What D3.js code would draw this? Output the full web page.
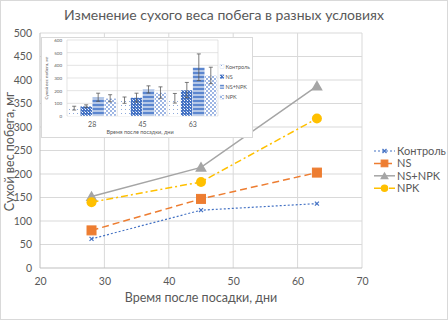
<!DOCTYPE html>
<html>
<head>
<meta charset="utf-8">
<script src="https://cdn.jsdelivr.net/npm/d3@7"></script>
<style>
  body { margin: 0; background: #fff; }
  svg { font-family: Lato, "Open Sans", "Liberation Sans", sans-serif; }
</style>
</head>
<body>
<div id="chart"></div>
<script>
// main line chart data
const days = [28, 45, 63];
const seriesNames = ['Контроль', 'NS', 'NS+NPK', 'NPK'];
const control = [62, 123, 137];
const ns = [80, 147, 203];
const nsNpk = [152, 214, 387];
const npk = [140, 183, 318];

// inset bar chart data (means and error half-widths)
const barControl = [62, 125, 140];
const barNs = [78, 145, 205];
const barNsNpk = [148, 210, 385];
const barNpk = [140, 185, 320];
const errControl = [15, 25, 38];
const errNs = [10, 35, 60];
const errNsNpk = [32, 28, 105];
const errNpk = [28, 45, 65];

const xTicks = [20, 30, 40, 50, 60, 70];
const yTicks = [0, 50, 100, 150, 200, 250, 300, 350, 400, 450, 500];
const insetTicks = [0, 100, 200, 300, 400, 500, 600];

const W = 448, H = 320;
const textColor = '#595959';
const gridColor = '#d9d9d9';

const svg = d3.select('#chart').append('svg')
    .attr('width', W).attr('height', H);

svg.append('rect')
    .attr('x', 0.5).attr('y', 0.5)
    .attr('width', W - 1).attr('height', H - 1)
    .attr('fill', '#fff').attr('stroke', '#d9d9d9');

// patterns for inset bars
const defs = svg.append('defs');
const pDots = defs.append('pattern').attr('id', 'p0')
    .attr('width', 4).attr('height', 4).attr('patternUnits', 'userSpaceOnUse');
pDots.append('rect').attr('width', 4).attr('height', 4).attr('fill', '#fff');
pDots.append('rect').attr('x', 1).attr('y', 1).attr('width', 1).attr('height', 1).attr('fill', '#8faadc');

const pCheck = defs.append('pattern').attr('id', 'p1')
    .attr('width', 3).attr('height', 3).attr('patternUnits', 'userSpaceOnUse');
pCheck.append('rect').attr('width', 3).attr('height', 3).attr('fill', '#4472c4');
pCheck.append('rect').attr('x', 1).attr('y', 1).attr('width', 1).attr('height', 1).attr('fill', '#fff');
pCheck.append('rect').attr('x', 0).attr('y', 0).attr('width', 1).attr('height', 1).attr('fill', '#b4c7e7');

const pStripe = defs.append('pattern').attr('id', 'p2')
    .attr('width', 4).attr('height', 4).attr('patternUnits', 'userSpaceOnUse');
pStripe.append('rect').attr('width', 4).attr('height', 4).attr('fill', '#b4c7e7');
pStripe.append('rect').attr('width', 4).attr('height', 2).attr('fill', '#5b86cf');

const pChecker = defs.append('pattern').attr('id', 'p3')
    .attr('width', 4).attr('height', 4).attr('patternUnits', 'userSpaceOnUse');
pChecker.append('rect').attr('width', 4).attr('height', 4).attr('fill', '#fff');
pChecker.append('rect').attr('width', 2).attr('height', 2).attr('fill', '#9db5e3');
pChecker.append('rect').attr('x', 2).attr('y', 2).attr('width', 2).attr('height', 2).attr('fill', '#9db5e3');

// ---------------- main chart ----------------
const x = d3.scaleLinear().domain([20, 70]).range([40, 362]);
const y = d3.scaleLinear().domain([0, 500]).range([268, 33]);

const grid = svg.append('g');
grid.selectAll('line.h').data(yTicks.slice(1)).join('line')
    .attr('x1', x(20)).attr('x2', x(70))
    .attr('y1', d => y(d)).attr('y2', d => y(d))
    .attr('stroke', gridColor);
grid.selectAll('line.v').data(xTicks.slice(1)).join('line')
    .attr('x1', d => x(d)).attr('x2', d => x(d))
    .attr('y1', y(0)).attr('y2', y(500))
    .attr('stroke', gridColor);

// axis baselines
svg.append('line').attr('x1', x(20)).attr('x2', x(70)).attr('y1', y(0)).attr('y2', y(0)).attr('stroke', '#bfbfbf');
svg.append('line').attr('x1', x(20)).attr('x2', x(20)).attr('y1', y(0)).attr('y2', y(500)).attr('stroke', '#bfbfbf');

const xAxis = svg.append('g').attr('transform', `translate(0,${y(0)})`)
    .call(d3.axisBottom(x).tickValues(xTicks).tickSize(0).tickPadding(10));
const yAxis = svg.append('g').attr('transform', `translate(${x(20)},0)`)
    .call(d3.axisLeft(y).tickValues(yTicks).tickSize(0).tickPadding(8));
[xAxis, yAxis].forEach(a => {
    a.select('.domain').remove();
    a.selectAll('text').attr('fill', textColor)
        .style('font-family', 'Lato, sans-serif').style('font-size', '10.5px');
});

svg.append('text')
    .attr('x', 224).attr('y', 20)
    .attr('text-anchor', 'middle')
    .attr('fill', textColor).style('font-size', '14px')
    .text('Изменение сухого веса побега в разных условиях');

svg.append('text')
    .attr('x', 201).attr('y', 302)
    .attr('text-anchor', 'middle')
    .attr('fill', textColor).style('font-size', '12.5px')
    .text('Время после посадки, дни');

svg.append('text')
    .attr('transform', `translate(14,${y(250) + 1}) rotate(-90)`)
    .attr('text-anchor', 'middle')
    .attr('fill', textColor).style('font-size', '12.5px')
    .text('Сухой вес побега, мг');

const lineSeries = [
    {name: seriesNames[0], values: control, color: '#4472c4', dash: '2,2', marker: 'x', width: 1.2},
    {name: seriesNames[1], values: ns, color: '#ed7d31', dash: '7,4', marker: 'square', width: 1.5},
    {name: seriesNames[2], values: nsNpk, color: '#a5a5a5', dash: null, marker: 'triangle', width: 1.5},
    {name: seriesNames[3], values: npk, color: '#ffc000', dash: '7,3,2,3', marker: 'circle', width: 1.5}
];

const line = d3.line().x(d => x(d[0])).y(d => y(d[1]));

function drawMarker(g, type, color, cx, cy, scale = 1) {
    if (type === 'square') {
        const s = 9 * scale;
        g.append('rect').attr('x', cx - s / 2).attr('y', cy - s / 2).attr('width', s).attr('height', s)
            .attr('fill', color).attr('stroke', color);
    } else if (type === 'triangle') {
        g.append('path')
            .attr('d', d3.symbol().type(d3.symbolTriangle).size(60 * scale * scale)())
            .attr('transform', `translate(${cx},${cy + 1})`)
            .attr('fill', color);
    } else if (type === 'circle') {
        g.append('circle').attr('cx', cx).attr('cy', cy).attr('r', 5 * scale).attr('fill', color);
    } else {
        const s = 2;
        g.append('path')
            .attr('d', `M${cx - s},${cy - s}L${cx + s},${cy + s}M${cx - s},${cy + s}L${cx + s},${cy - s}`)
            .attr('stroke', color).attr('stroke-width', 1.2);
    }
}

lineSeries.forEach(s => {
    const pts = days.map((d, i) => [d, s.values[i]]);
    svg.append('path')
        .attr('d', line(pts))
        .attr('fill', 'none')
        .attr('stroke', s.color)
        .attr('stroke-width', s.width)
        .attr('stroke-dasharray', s.dash);
    const mg = svg.append('g');
    pts.forEach(p => drawMarker(mg, s.marker, s.color, x(p[0]), y(p[1])));
});

// main legend
const legend = svg.append('g');
lineSeries.forEach((s, i) => {
    const ly = 151 + i * 12.4;
    legend.append('line')
        .attr('x1', 374).attr('x2', 395).attr('y1', ly).attr('y2', ly)
        .attr('stroke', s.color).attr('stroke-width', s.width)
        .attr('stroke-dasharray', s.dash);
    drawMarker(legend, s.marker, s.color, 384.5, ly, 0.75);
    legend.append('text')
        .attr('x', 397).attr('y', ly + 4)
        .attr('fill', textColor).style('font-size', '11px')
        .text(s.name);
});

// ---------------- inset bar chart ----------------
const inset = svg.append('g');
inset.append('rect')
    .attr('x', 41.5).attr('y', 37.5).attr('width', 211).attr('height', 100)
    .attr('fill', '#fff').attr('stroke', '#d9d9d9');

const ix = d3.scaleBand().domain(days).range([67, 218]).paddingInner(0).paddingOuter(0);
const ixInner = d3.scaleBand().domain(seriesNames).range([0, ix.bandwidth()]).paddingOuter(0.1);
const iy = d3.scaleLinear().domain([0, 600]).range([116, 40]);

inset.selectAll('line.ih').data(insetTicks).join('line')
    .attr('x1', 67).attr('x2', 218)
    .attr('y1', d => iy(d)).attr('y2', d => iy(d))
    .attr('stroke', gridColor).attr('stroke-width', 0.7);
inset.selectAll('line.iv').data([67, 117.3, 167.7, 218]).join('line')
    .attr('x1', d => d).attr('x2', d => d)
    .attr('y1', iy(0)).attr('y2', iy(600))
    .attr('stroke', gridColor).attr('stroke-width', 0.7);

const iyAxis = inset.append('g').attr('transform', 'translate(67,0)')
    .call(d3.axisLeft(iy).tickValues(insetTicks).tickSize(0).tickPadding(5));
iyAxis.select('.domain').remove();
iyAxis.selectAll('text').attr('fill', textColor)
    .style('font-family', 'Lato, sans-serif').style('font-size', '4.5px');

const ixAxis = inset.append('g').attr('transform', `translate(0,${iy(0)})`)
    .call(d3.axisBottom(ix).tickSize(0).tickPadding(6));
ixAxis.select('.domain').remove();
ixAxis.selectAll('text').attr('fill', textColor)
    .style('font-family', 'Lato, sans-serif').style('font-size', '7px');

inset.append('text')
    .attr('x', 140).attr('y', 134)
    .attr('text-anchor', 'middle')
    .attr('fill', textColor).style('font-size', '5.5px')
    .text('Время после посадки, дни');

inset.append('text')
    .attr('transform', `translate(48,${iy(300)}) rotate(-90)`)
    .attr('text-anchor', 'middle')
    .attr('fill', textColor).style('font-size', '4.5px')
    .text('Сухой вес побега, мг');

const barSeries = [
    {name: seriesNames[0], values: barControl, err: errControl, fill: 'url(#p0)'},
    {name: seriesNames[1], values: barNs, err: errNs, fill: 'url(#p1)'},
    {name: seriesNames[2], values: barNsNpk, err: errNsNpk, fill: 'url(#p2)'},
    {name: seriesNames[3], values: barNpk, err: errNpk, fill: 'url(#p3)'}
];

barSeries.forEach(s => {
    days.forEach((d, i) => {
        const bx = ix(d) + ixInner(s.name);
        const bw = ixInner.bandwidth();
        inset.append('rect')
            .attr('x', bx).attr('y', iy(s.values[i]))
            .attr('width', bw).attr('height', iy(0) - iy(s.values[i]))
            .attr('fill', s.fill)
            .attr('stroke', '#fff').attr('stroke-width', 0.4);
    });
});

// error bars on top
barSeries.forEach(s => {
    days.forEach((d, i) => {
        const cx = ix(d) + ixInner(s.name) + ixInner.bandwidth() / 2;
        const lo = iy(s.values[i] - s.err[i]);
        const hi = iy(s.values[i] + s.err[i]);
        const eb = inset.append('g').attr('stroke', '#595959').attr('stroke-width', 0.8);
        eb.append('line').attr('x1', cx).attr('x2', cx).attr('y1', lo).attr('y2', hi);
        eb.append('line').attr('x1', cx - 2).attr('x2', cx + 2).attr('y1', lo).attr('y2', lo);
        eb.append('line').attr('x1', cx - 2).attr('x2', cx + 2).attr('y1', hi).attr('y2', hi);
    });
});

// inset legend
barSeries.forEach((s, i) => {
    const ly = 67 + i * 10.2;
    inset.append('rect')
        .attr('x', 220).attr('y', ly - 2.5).attr('width', 4).attr('height', 4)
        .attr('fill', s.fill).attr('stroke', '#b4c7e7').attr('stroke-width', 0.3);
    inset.append('text')
        .attr('x', 225.5).attr('y', ly + 1.5)
        .attr('fill', textColor).style('font-size', '5.5px')
        .text(s.name);
});
</script>
</body>
</html>
